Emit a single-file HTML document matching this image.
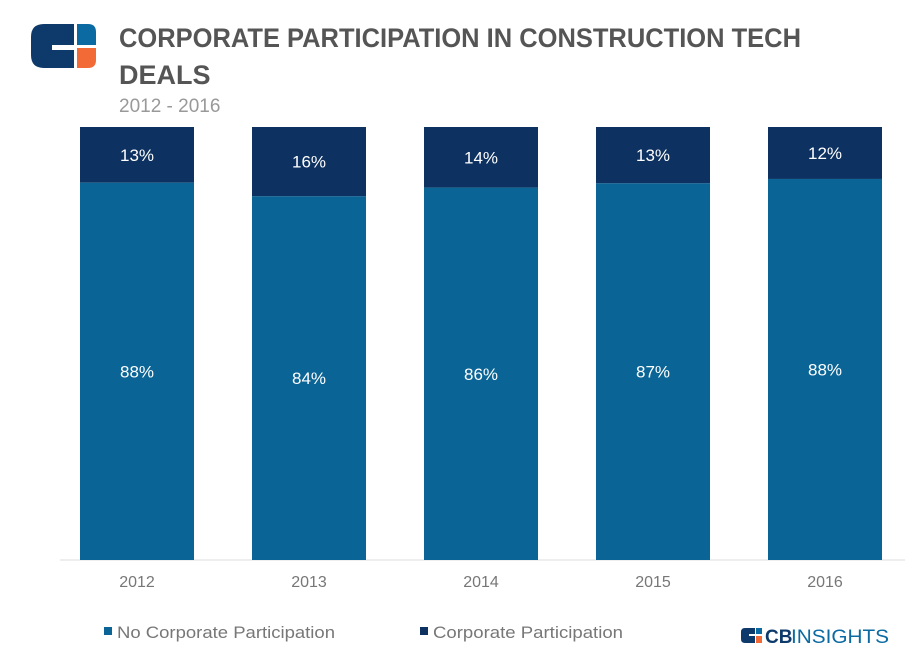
<!DOCTYPE html>
<html><head><meta charset="utf-8"><style>
body{margin:0;width:911px;height:661px;background:#fff;font-family:"Liberation Sans",sans-serif;overflow:hidden;position:relative}
.t{position:absolute}
</style></head><body>
<svg class="t" style="left:0;top:0" width="911" height="661">
<g>
<path d="M44,24 H74 V45 H52 V50 H74 V68 H44 Q31,68 31,55 V37 Q31,24 44,24Z" fill="#0d3a6b"/>
<path d="M77,24 H88 Q96,24 96,32 V45 H77Z" fill="#0a6aa1"/>
<path d="M77,48 H96 V60 Q96,68 88,68 H77Z" fill="#f26a36"/>
</g>
<text x="119" y="47" font-size="27" font-weight="bold" fill="#555" textLength="682" lengthAdjust="spacingAndGlyphs">CORPORATE PARTICIPATION IN CONSTRUCTION TECH</text>
<text x="119" y="84" font-size="27" font-weight="bold" fill="#555">DEALS</text>
<text x="119" y="112" font-size="19" fill="#999">2012 - 2016</text>
<line x1="60" y1="560" x2="905" y2="560" stroke="#ddd"/>
<g id="bars"></g>
<g>
<rect x="104" y="627" width="8" height="8" fill="#0a6496"/>
<text x="117" y="638" font-size="17" fill="#777" textLength="218" lengthAdjust="spacingAndGlyphs">No Corporate Participation</text>
<rect x="420" y="627" width="8" height="8" fill="#0d3160"/>
<text x="433" y="638" font-size="17" fill="#777" textLength="190" lengthAdjust="spacingAndGlyphs">Corporate Participation</text>
</g>
<g>
<path d="M745,628 H755 V634 H749 V636 H755 V643 H745 Q741,643 741,639 V632 Q741,628 745,628Z" fill="#0d3a6b"/>
<rect x="756" y="628" width="6" height="6" fill="#0a6aa1"/>
<rect x="756" y="636" width="6" height="7" fill="#f26a36"/>
<text x="765" y="643" font-size="19" font-weight="bold" fill="#0d3a6b">CB</text>
<text x="791" y="643" font-size="19" fill="#0a6aa1" textLength="98" lengthAdjust="spacingAndGlyphs">INSIGHTS</text>
</g>
</svg>
<script>
const years=["2012","2013","2014","2015","2016"];
const noCorp=[88,84,86,87,88];
const corp=[13,16,14,13,12];
const g=document.getElementById('bars');
const NS="http://www.w3.org/2000/svg";
const top0=127,bot=560,x0=80,step=172,bw=114;
function mk(t,a){const e=document.createElementNS(NS,t);for(const k in a)e.setAttribute(k,a[k]);g.appendChild(e);return e;}
years.forEach((y,i)=>{
 const x=x0+i*step,tot=noCorp[i]+corp[i],h=bot-top0;
 const b=top0+h*corp[i]/tot;
 const r1=mk('rect',{x:x,y:top0,width:bw,height:b-top0,fill:'#0d3160'});
 
 
 const r2=mk('rect',{x:x,y:b,width:bw,height:bot-b,fill:'#0a6496'});
 
 
 const t1=mk('text',{x:x+bw/2,y:(top0+b)/2+6,'font-size':17,fill:'#fff','text-anchor':'middle'});
 t1.textContent=corp[i]+'%';
 
 
 const t2=mk('text',{x:x+bw/2,y:(b+bot)/2+6,'font-size':17,fill:'#fff','text-anchor':'middle'});
 t2.textContent=noCorp[i]+'%';
 
 
 const t3=mk('text',{x:x+bw/2,y:587,'font-size':16,fill:'#777','text-anchor':'middle'});
 t3.textContent=y;
 
 
});
</script>
</body></html>
